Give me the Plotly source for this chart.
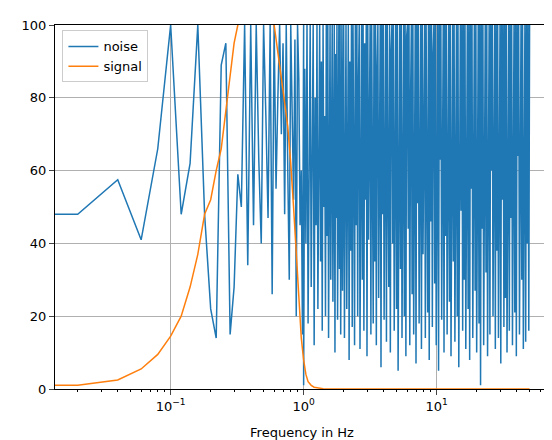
import numpy as np
import plotly.graph_objects as go

# low-frequency part, step 0.02 Hz
noise_low_f = [0.01, 0.02, 0.04, 0.06, 0.08, 0.10, 0.12, 0.14, 0.16, 0.18, 0.20, 0.22,
               0.24, 0.26, 0.28, 0.30, 0.32, 0.34]
noise_low = [48, 48, 57.5, 41, 66, 100, 48, 62, 100, 48, 22, 14,
             89, 95, 15, 28, 59, 50]
# 0.36 .. 1.0 Hz, step 0.02
noise_mid = [100, 34, 100, 45, 100, 63, 40, 100, 75, 47, 100, 26, 100, 55, 80, 100, 70,
             95, 48, 100, 60, 30, 100, 72, 52, 96, 20, 100, 85, 45, 60, 15, 100]
# 1.0 .. 2.0 Hz
noise_hi1 = [1, 88, 40, 100, 18, 70, 100, 28, 55, 100, 12, 80, 45, 100, 22, 64, 100, 35,
             90, 16, 100, 50, 75, 20, 100, 42, 100, 14, 68, 100, 30, 85, 100, 24, 58, 100,
             10, 92, 47, 100, 19, 73, 100, 33, 100, 15, 62, 100, 27, 88]
# 2 .. 50 Hz, dense part
noise_hi2 = [100, 14, 76, 100, 22, 55, 100, 8, 90, 38, 100, 17, 100, 63, 12, 100, 45, 100,
             20, 84, 100, 11, 70, 100, 30, 100, 16, 95, 52, 100, 9, 100, 41, 78, 100, 15,
             100, 60, 18, 100, 35, 100, 12, 88, 100, 25, 66, 100, 6, 100, 48, 100, 19, 82,
             100, 13, 100, 57, 28, 100, 10, 93, 100, 40, 100, 16, 74, 100, 22, 100, 5, 86,
             100, 33, 100, 14, 61, 100, 20, 100, 9, 97, 100, 44, 100, 12, 79, 100, 26, 100,
             15, 68, 100, 7, 100, 51, 100, 18, 90, 100, 11, 100, 37, 83, 100, 14, 100, 58,
             21, 100, 8, 100, 46, 100, 17, 92, 100, 29, 100, 12, 71, 100, 5, 100, 63, 100,
             19, 87, 100, 10, 100, 42, 100, 15, 76, 100, 24, 100, 9, 95, 100, 35, 100, 13,
             66, 100, 20, 100, 6, 84, 100, 49, 100, 16, 100, 30, 100, 11, 78, 100, 22, 100,
             8, 100, 55, 100, 14, 91, 100, 27, 100, 10, 69, 100, 18, 100, 1, 100, 44, 100,
             12, 86, 100, 32, 100, 9, 74, 100, 15, 100, 60, 100, 20, 96, 100, 11, 100, 38,
             100, 14, 81, 100, 7, 100, 52, 100, 17, 100, 25, 100, 10, 89, 100, 16, 100, 47,
             100, 12, 70, 100, 21, 100, 9, 100, 64, 100, 15, 93, 100, 30, 100, 11, 77, 100,
             13, 100, 40, 100, 16, 100]

signal_f = [0.01, 0.02, 0.04, 0.06, 0.08, 0.10, 0.12, 0.14, 0.16, 0.18, 0.20, 0.22, 0.24,
            0.26, 0.28, 0.30, 0.32, 0.34, 0.40, 0.50, 0.56, 0.60, 0.64, 0.70, 0.76, 0.80,
            0.84, 0.88, 0.92, 0.96, 1.00, 1.04, 1.08, 1.14, 1.20, 1.40, 2.0, 50.0]
signal = [1, 1, 2.5, 5.5, 9.5, 14.5, 20, 28, 37, 48, 52, 60, 66,
          76, 85, 95, 100, 105, 120, 125, 115, 100, 93, 82, 72, 62,
          50, 38, 25, 14, 8, 4, 2, 1, 0.5, 0.1, 0, 0]

f_mid = np.arange(len(noise_mid)) * 0.02 + 0.36
f_hi1 = np.linspace(1.0, 2.0, len(noise_hi1), endpoint=False)
f_hi2 = np.geomspace(2.0, 50.0, len(noise_hi2))
noise_f = np.concatenate([noise_low_f, f_mid, f_hi1, f_hi2])
noise = np.concatenate([noise_low, noise_mid, noise_hi1, noise_hi2])

fig = go.Figure()
fig.add_trace(go.Scatter(x=noise_f, y=noise, mode="lines", name="noise",
                         line=dict(color="#1f77b4", width=1.5)))
fig.add_trace(go.Scatter(x=signal_f, y=signal, mode="lines", name="signal",
                         line=dict(color="#ff7f0e", width=1.5)))

axis_common = dict(showline=True, linecolor="black", mirror=True, ticks="outside",
                   showgrid=True, gridcolor="#b0b0b0", gridwidth=0.8, zeroline=False,
                   tickfont=dict(family="DejaVu Sans", size=13, color="black"))
fig.update_xaxes(type="log", range=[np.log10(0.0135), np.log10(70)],
                 tickvals=[0.1, 1, 10], ticktext=["10<sup>−1</sup>", "10<sup>0</sup>", "10<sup>1</sup>"],
                 title=dict(text="Frequency in Hz", font=dict(family="DejaVu Sans", size=13)),
                 minor=dict(ticks="outside", ticklen=2, tickwidth=0.6, dtick="D1",
                            tickcolor="black", showgrid=False), **axis_common)
fig.update_yaxes(range=[0, 100], tickvals=[0, 20, 40, 60, 80, 100], **axis_common)
fig.update_layout(width=552, height=440, plot_bgcolor="white", paper_bgcolor="white",
                  margin=dict(l=47, r=10, t=11, b=57),
                  font=dict(family="DejaVu Sans", size=13, color="black"),
                  legend=dict(x=0.015, y=0.985, xanchor="left", yanchor="top",
                              bordercolor="#cccccc", borderwidth=1, bgcolor="white"))
fig.write_html("out.html")
